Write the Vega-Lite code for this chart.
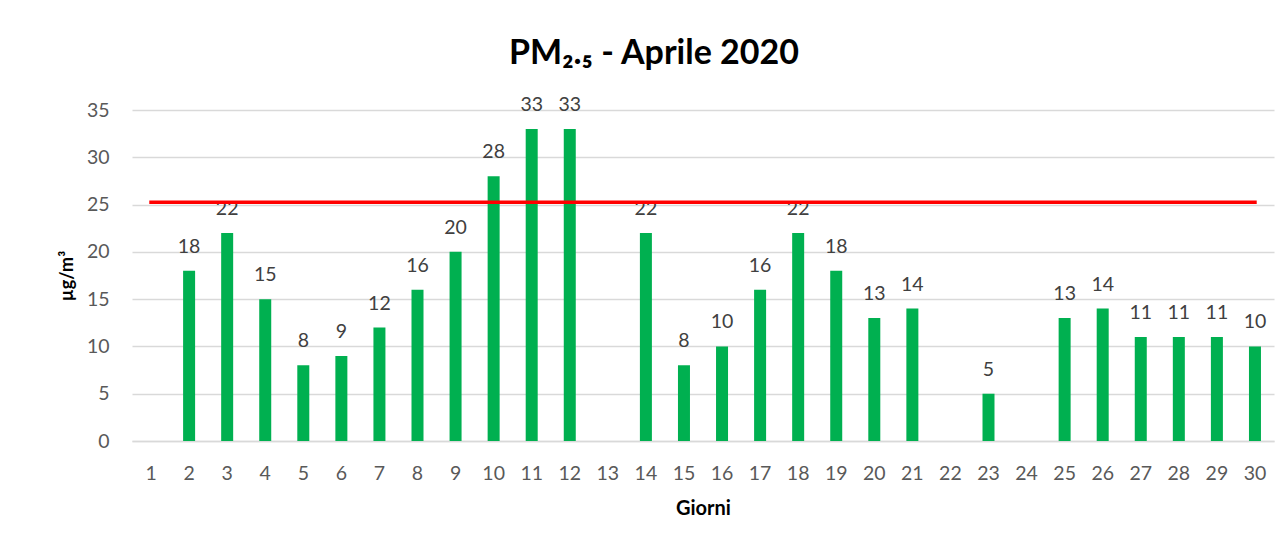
{
  "$schema": "https://vega.github.io/schema/vega-lite/v6.json",
  "autosize": {"type": "none"},
  "width": 1142,
  "height": 331,
  "padding": {"left": 132, "top": 110, "right": 11, "bottom": 109},
  "background": "white",
  "config": {
    "font": "Lato",
    "view": {"stroke": null}
  },
  "title": {
    "text": "PM₂.₅ - Aprile 2020",
    "font": "Lato",
    "fontSize": 34,
    "fontWeight": "bold",
    "color": "#000000",
    "anchor": "middle",
    "frame": "group",
    "dx": -49,
    "offset": 24
  },
  "data": {
    "values": [
      {"giorno": 2, "pm": 18},
      {"giorno": 3, "pm": 22},
      {"giorno": 4, "pm": 15},
      {"giorno": 5, "pm": 8},
      {"giorno": 6, "pm": 9},
      {"giorno": 7, "pm": 12},
      {"giorno": 8, "pm": 16},
      {"giorno": 9, "pm": 20},
      {"giorno": 10, "pm": 28},
      {"giorno": 11, "pm": 33},
      {"giorno": 12, "pm": 33},
      {"giorno": 14, "pm": 22},
      {"giorno": 15, "pm": 8},
      {"giorno": 16, "pm": 10},
      {"giorno": 17, "pm": 16},
      {"giorno": 18, "pm": 22},
      {"giorno": 19, "pm": 18},
      {"giorno": 20, "pm": 13},
      {"giorno": 21, "pm": 14},
      {"giorno": 23, "pm": 5},
      {"giorno": 25, "pm": 13},
      {"giorno": 26, "pm": 14},
      {"giorno": 27, "pm": 11},
      {"giorno": 28, "pm": 11},
      {"giorno": 29, "pm": 11},
      {"giorno": 30, "pm": 10}
    ]
  },
  "layer": [
    {
      "mark": {"type": "bar", "color": "#00b050", "size": 12},
      "encoding": {
        "x": {
          "field": "giorno",
          "type": "ordinal",
          "scale": {"domain": [1,2,3,4,5,6,7,8,9,10,11,12,13,14,15,16,17,18,19,20,21,22,23,24,25,26,27,28,29,30], "paddingInner": 0, "paddingOuter": 0},
          "axis": {
            "title": "Giorni",
            "titleFont": "Lato",
            "titleFontSize": 20,
            "titleFontWeight": "bold",
            "titleColor": "#000000",
            "titlePadding": 16,
            "labelAngle": 0,
            "labelFont": "Lato",
            "labelFontSize": 19.5,
            "labelColor": "#595959",
            "labelPadding": 23,
            "ticks": false,
            "domain": true,
            "domainColor": "#d9d9d9",
            "domainWidth": 1.5,
            "grid": false
          }
        },
        "y": {
          "field": "pm",
          "type": "quantitative",
          "scale": {"domain": [0, 35], "nice": false},
          "axis": {
            "title": "µg/m³",
            "titleFont": "Lato",
            "titleFontSize": 18,
            "titleFontWeight": "bold",
            "titleColor": "#000000",
            "titlePadding": 10,
            "values": [0, 5, 10, 15, 20, 25, 30, 35],
            "labelFont": "Lato",
            "labelFontSize": 19.5,
            "labelColor": "#595959",
            "labelPadding": 23,
            "ticks": false,
            "domain": false,
            "grid": true,
            "gridColor": "#d9d9d9",
            "gridWidth": 1.5
          }
        }
      }
    },
    {
      "mark": {"type": "text", "font": "Lato", "fontSize": 19.5, "color": "#404040", "baseline": "alphabetic", "dy": -18},
      "encoding": {
        "x": {"field": "giorno", "type": "ordinal"},
        "y": {"field": "pm", "type": "quantitative"},
        "text": {"field": "pm", "type": "quantitative"}
      }
    },
    {
      "data": {"values": [{"inizio": 1, "fine": 30, "limite": 25.25}]},
      "mark": {"type": "rule", "color": "#ff0000", "strokeWidth": 3.5, "strokeCap": "square"},
      "encoding": {
        "x": {"field": "inizio", "type": "ordinal"},
        "x2": {"field": "fine"},
        "y": {"field": "limite", "type": "quantitative"}
      }
    }
  ]
}
